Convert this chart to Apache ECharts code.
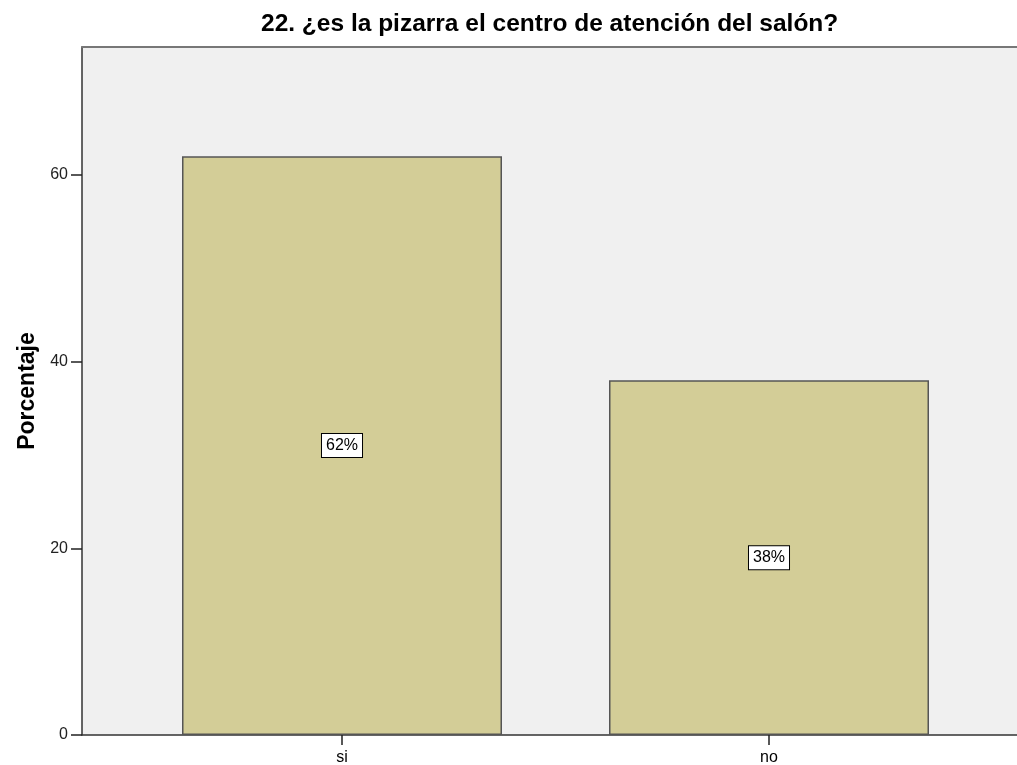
<!DOCTYPE html>
<html lang="es">
<head>
    <meta charset="UTF-8">
    <title>Porcentaje</title>
    <script src="https://cdn.jsdelivr.net/npm/echarts@6/dist/echarts.min.js"></script>
    <style>
        html, body { margin: 0; padding: 0; background: #fff; }
        #main { width: 1017px; height: 765px; }
    </style>
</head>
<body>
<div id="main"></div>

<script type="text/javascript">
    // datos
    var categorias = ['si', 'no'];
    var porcentajes = [62, 38];
    var ejeMax = 73.7;
    var ejeIntervalo = 20;

    var myChart = echarts.init(document.getElementById('main'));
    var fuente = '"Liberation Sans", Arial, sans-serif';

    var option = {
        animation: false,
        backgroundColor: '#ffffff',
        title: {
            text: '22. ¿es la pizarra el centro de atención del salón?',
            left: 256,
            top: 7,
            textStyle: {fontFamily: fuente, fontSize: 24.5, fontWeight: 'bold', color: '#000'}
        },
        grid: [
            // fondo gris del area de trazado
            {left: 82, top: 47, right: -20, bottom: 30, show: true, outerBoundsMode: 'none',
                backgroundColor: '#f0f0f0', borderWidth: 0},
            // area de las barras
            {left: 128.5, top: 47, width: 854, bottom: 30, outerBoundsMode: 'none'}
        ],
        xAxis: [
            {gridIndex: 0, type: 'value', min: 0, max: 1, position: 'bottom',
                axisLine: {show: true, lineStyle: {color: '#333', width: 1.5}},
                axisTick: {show: false}, axisLabel: {show: false}, splitLine: {show: false}},
            {gridIndex: 0, type: 'value', min: 0, max: 1, position: 'top',
                axisLine: {show: true, lineStyle: {color: '#777', width: 2}},
                axisTick: {show: false}, axisLabel: {show: false}, splitLine: {show: false}},
            {gridIndex: 1, type: 'category', data: categorias,
                axisLine: {show: false},
                axisTick: {show: true, alignWithLabel: true, length: 10,
                    lineStyle: {color: '#222', width: 1.5}},
                axisLabel: {fontFamily: fuente, fontSize: 16, color: '#000', margin: 15}}
        ],
        yAxis: [
            {gridIndex: 0, type: 'value', min: 0, max: ejeMax, interval: ejeIntervalo,
                name: 'Porcentaje', nameLocation: 'middle', nameRotate: 90, nameGap: 36,
                nameTextStyle: {fontFamily: fuente, fontSize: 23, fontWeight: 'bold', color: '#000'},
                axisLine: {show: true, lineStyle: {color: '#333', width: 1.5}},
                axisTick: {show: true, length: 11, lineStyle: {color: '#222', width: 1.5}},
                axisLabel: {fontFamily: fuente, fontSize: 16, color: '#222', margin: 14,
                    showMaxLabel: false},
                splitLine: {show: false}},
            {gridIndex: 1, type: 'value', min: 0, max: ejeMax, interval: ejeIntervalo, show: false}
        ],
        series: [
            {
                type: 'bar',
                xAxisIndex: 2,
                yAxisIndex: 1,
                data: porcentajes,
                barWidth: 320,
                itemStyle: {color: '#d3cd97', borderColor: '#555', borderWidth: 1.5},
                label: {
                    show: true,
                    position: 'inside',
                    formatter: '{c}%',
                    fontFamily: fuente,
                    fontSize: 16,
                    color: '#000',
                    backgroundColor: '#fff',
                    borderColor: '#000',
                    borderWidth: 1,
                    padding: [4, 4, 3, 4]
                }
            }
        ]
    };

    myChart.setOption(option);
</script>
</body>
</html>
